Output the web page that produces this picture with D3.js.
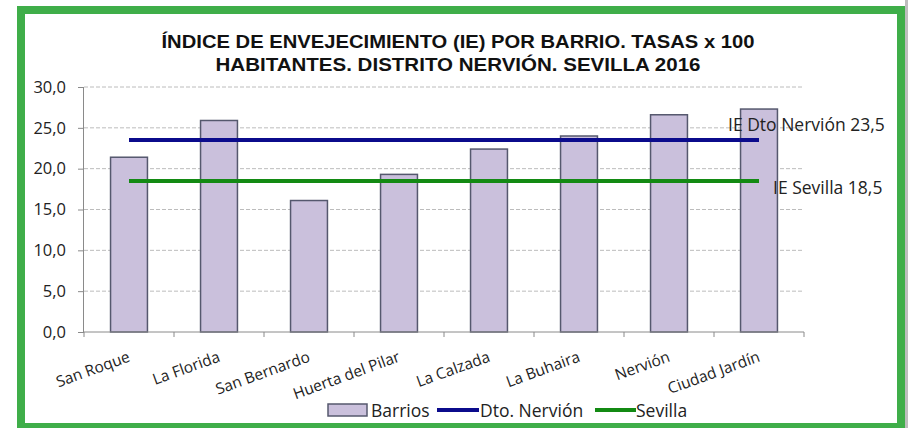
<!DOCTYPE html>
<html>
<head>
<meta charset="utf-8">
<script src="https://cdn.jsdelivr.net/npm/d3@7"></script>
<style>
  body { margin: 0; background: #fff; overflow: hidden; }
  svg { display: block; }
</style>
</head>
<body>
<div id="chart"></div>
<script>
// Data
const barrios = ["San Roque", "La Florida", "San Bernardo", "Huerta del Pilar",
  "La Calzada", "La Buhaira", "Nervión", "Ciudad Jardín"];
const ieValues = [21.4, 25.9, 16.1, 19.3, 22.4, 24.0, 26.6, 27.3];
const ieDistrito = 23.5;
const ieSevilla = 18.5;
const yTicks = [0, 5, 10, 15, 20, 25, 30];
const titleLines = [
  "ÍNDICE DE ENVEJECIMIENTO (IE) POR BARRIO. TASAS x 100",
  "HABITANTES. DISTRITO NERVIÓN. SEVILLA 2016"
];

const width = 908;
const height = 428;
const margin = { top: 87, right: 104, bottom: 96, left: 84 };
const innerWidth = width - margin.left - margin.right;
const innerHeight = height - margin.top - margin.bottom;
const BLUE = "#0b0b8c";
const GREEN = "#138a13";
const LABEL_FONT = "'Open Sans', 'Noto Sans', sans-serif";

const svg = d3
  .select("#chart")
  .append("svg")
  .attr("width", width)
  .attr("height", height);

// Frame
svg.append("rect")
  .attr("x", 905).attr("y", 0).attr("width", 3).attr("height", height)
  .attr("fill", "#bdbdbd");
svg.append("rect")
  .attr("x", 21).attr("y", 10).attr("width", 880).attr("height", 417)
  .attr("fill", "#fff")
  .attr("stroke", "#3fae49")
  .attr("stroke-width", 8);

// Title
const titleWidths = [593, 485];
svg.append("g")
  .selectAll("text")
  .data(titleLines)
  .join("text")
  .attr("x", 458)
  .attr("y", (d, i) => 48 + i * 23)
  .attr("text-anchor", "middle")
  .attr("textLength", (d, i) => titleWidths[i])
  .attr("lengthAdjust", "spacingAndGlyphs")
  .style("font-family", "'Liberation Sans', Arial, sans-serif")
  .style("font-weight", "bold")
  .style("font-size", "18.5px")
  .attr("fill", "#111")
  .text((d) => d);

// Scales
const xScale = d3.scaleBand()
  .domain(barrios)
  .range([0, innerWidth])
  .paddingInner(0.59)
  .paddingOuter(0.295);

const bandStep = innerWidth / barrios.length;
const xCenter = (d) => (barrios.indexOf(d) + 0.5) * bandStep;

const yScale = d3.scaleLinear()
  .domain([0, 30])
  .range([innerHeight, 0]);

const chartGroup = svg.append("g")
  .attr("transform", `translate(${margin.left}, ${margin.top})`);

// Gridlines
chartGroup.append("g")
  .selectAll("line")
  .data(yTicks.filter((d) => d > 0))
  .join("line")
  .attr("x1", 0)
  .attr("x2", innerWidth)
  .attr("y1", (d) => yScale(d))
  .attr("y2", (d) => yScale(d))
  .attr("stroke", "#bcbcbc")
  .attr("stroke-width", 1)
  .attr("stroke-dasharray", "4,2");

// Bars
chartGroup.append("g")
  .selectAll("rect")
  .data(barrios)
  .join("rect")
  .attr("x", (d) => xScale(d))
  .attr("y", (d, i) => yScale(ieValues[i]))
  .attr("width", xScale.bandwidth())
  .attr("height", (d, i) => innerHeight - yScale(ieValues[i]))
  .attr("fill", "#cac0dc")
  .attr("stroke", "#55586e")
  .attr("stroke-width", 1.5);

// Reference lines
const refLines = [
  { value: ieDistrito, color: BLUE, label: "IE Dto Nervión 23,5", dx: -31, dy: -9 },
  { value: ieSevilla, color: GREEN, label: "IE Sevilla 18,5", dx: 14, dy: 13 }
];

chartGroup.append("g")
  .selectAll("line")
  .data(refLines)
  .join("line")
  .attr("x1", xCenter(barrios[0]))
  .attr("x2", xCenter(barrios[barrios.length - 1]))
  .attr("y1", (d) => yScale(d.value))
  .attr("y2", (d) => yScale(d.value))
  .attr("stroke", (d) => d.color)
  .attr("stroke-width", 4);

chartGroup.append("g")
  .selectAll("text")
  .data(refLines)
  .join("text")
  .attr("x", (d) => xCenter(barrios[barrios.length - 1]) + d.dx)
  .attr("y", (d) => yScale(d.value) + d.dy)
  .style("font-family", LABEL_FONT)
  .style("font-size", "17.5px")
  .attr("fill", "#222")
  .text((d) => d.label);

// Axes
const yAxis = d3.axisLeft(yScale)
  .tickValues(yTicks)
  .tickSize(6)
  .tickPadding(12)
  .tickFormat((d) => d3.format(".1f")(d).replace(".", ","));

const yAxisG = chartGroup.append("g").call(yAxis);
yAxisG.select(".domain").attr("stroke", "#8a8a8a").attr("d", `M-0.5,${innerHeight}V0`);
yAxisG.selectAll(".tick line").attr("stroke", "#8a8a8a");
yAxisG.selectAll(".tick text")
  .style("font-family", LABEL_FONT)
  .style("font-size", "16.5px")
  .attr("fill", "#222");

const xAxisG = chartGroup.append("g")
  .attr("transform", `translate(0, ${innerHeight})`);
xAxisG.append("line")
  .attr("x1", 0).attr("x2", innerWidth)
  .attr("y1", 0).attr("y2", 0)
  .attr("stroke", "#8a8a8a");
xAxisG.selectAll(".xtick")
  .data(d3.range(barrios.length + 1))
  .join("line")
  .attr("class", "xtick")
  .attr("x1", (d) => d * bandStep)
  .attr("x2", (d) => d * bandStep)
  .attr("y1", 0)
  .attr("y2", 5)
  .attr("stroke", "#8a8a8a");
xAxisG.selectAll(".xlabel")
  .data(barrios)
  .join("text")
  .attr("class", "xlabel")
  .attr("text-anchor", "end")
  .attr("transform", (d) => `translate(${xCenter(d) + 2}, 29) rotate(-20)`)
  .style("font-family", LABEL_FONT)
  .style("font-size", "15.5px")
  .attr("fill", "#222")
  .text((d) => d);

// Legend
const legend = svg.append("g").attr("transform", "translate(328, 410)");
legend.append("rect")
  .attr("x", 0).attr("y", -6).attr("width", 39).attr("height", 12)
  .attr("fill", "#cac0dc").attr("stroke", "#55586e").attr("stroke-width", 1.5);
legend.append("text").attr("x", 43).attr("y", 7).text("Barrios");
legend.append("line")
  .attr("x1", 109).attr("x2", 151).attr("y1", 0).attr("y2", 0)
  .attr("stroke", BLUE).attr("stroke-width", 4);
legend.append("text").attr("x", 152).attr("y", 7).text("Dto. Nervión");
legend.append("line")
  .attr("x1", 267).attr("x2", 308).attr("y1", 0).attr("y2", 0)
  .attr("stroke", GREEN).attr("stroke-width", 4);
legend.append("text").attr("x", 308).attr("y", 7).text("Sevilla");
legend.selectAll("text")
  .style("font-family", LABEL_FONT)
  .style("font-size", "17.5px")
  .attr("fill", "#222");
</script>
</body>
</html>
